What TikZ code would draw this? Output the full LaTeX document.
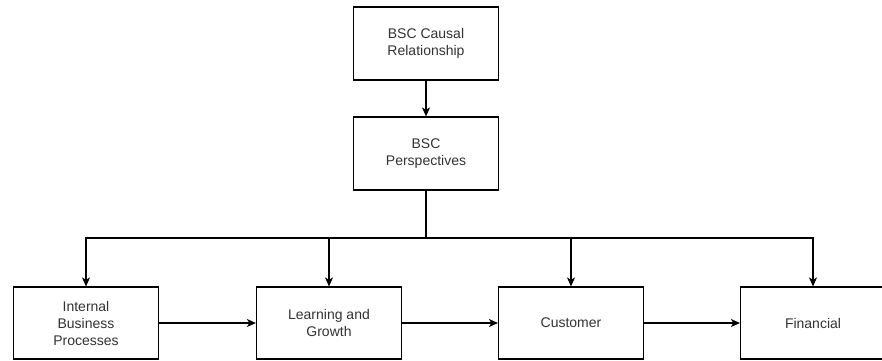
\documentclass[tikz,border=0pt]{standalone}
\usepackage{fontspec}
\setmainfont{Liberation Sans}
\usetikzlibrary{arrows.meta}
\begin{document}
\begin{tikzpicture}[x=1pt,y=-1pt,
  box/.style={draw=black, line width=1.2pt, minimum width=145pt, minimum height=73pt,
    inner sep=0pt, align=center, text=black!80, font=\fontsize{14}{17}\selectfont},
  arr/.style={draw=black, line width=1.1pt, -{Stealth[length=9pt,width=8pt,inset=2.5pt]}}]
\clip (0,0) rectangle (882,360);
\fill[white] (0,0) rectangle (882,360);
\node[box] (cause) at (426,43.5) {BSC Causal\\Relationship};
\node[box] (persp) at (426,153.5) {BSC\\Perspectives};
\node[box, minimum height=72pt] (ibp) at (86,323) {Internal\\Business\\Processes};
\node[box, minimum height=72pt] (lg) at (329,323) {Learning and\\Growth};
\node[box, minimum height=72pt] (cust) at (571,323) {Customer};
\node[box, minimum height=72pt] (fin) at (813,323) {Financial};
\coordinate (bus) at (426,238);
\draw[arr] (cause) -- (persp);
\draw[arr] (persp.south) -- (bus) -| (ibp.north);
\draw[arr] (bus) -| (lg.north);
\draw[arr] (bus) -| (cust.north);
\draw[arr] (bus) -| (fin.north);
\draw[arr] (ibp) -- (lg);
\draw[arr] (lg) -- (cust);
\draw[arr] (cust) -- (fin);
\end{tikzpicture}
\end{document}
